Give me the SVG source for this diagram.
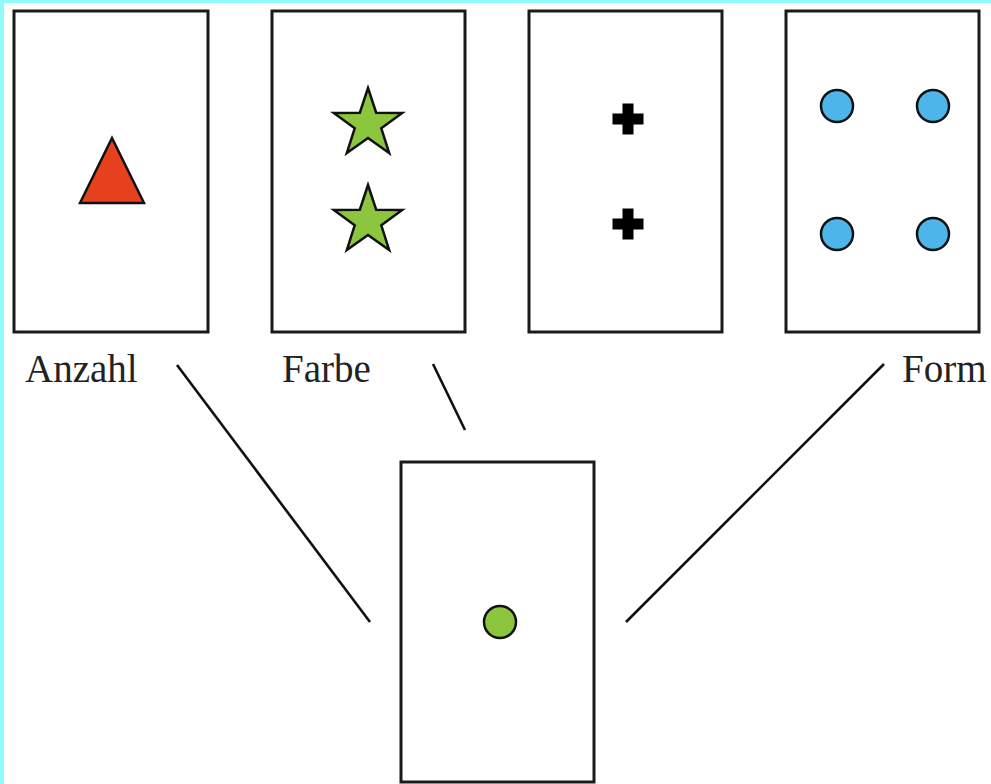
<svg xmlns="http://www.w3.org/2000/svg" width="991" height="784" viewBox="0 0 991 784">
<style>
.card{fill:#fff;stroke:#1a1a1a;stroke-width:3}
.sym{stroke:#111;stroke-width:2.5;stroke-linejoin:miter}
.lbl{font-family:"Liberation Serif","Times New Roman",serif;font-size:39px;fill:#222}
.con{stroke:#111;stroke-width:2.6;fill:none}
</style>
<defs>
<polygon id="star" points="0,-36 8.2,-11.3 34.2,-11.1 13.3,4.3 21.2,29.1 0,14 -21.2,29.1 -13.3,4.3 -34.2,-11.1 -8.2,-11.3"/>
<path id="cross" d="M-5.5,-15.5h11v10h10v11h-10v10h-11v-10h-10v-11h10z"/>
</defs>
<rect x="0" y="0" width="991" height="784" fill="#fff"/>
<rect x="0" y="0" width="991" height="3" fill="#8ffcfc"/>
<rect x="0" y="0" width="4" height="784" fill="#8ffcfc"/>
<g id="card-anzahl">
<rect class="card" x="14" y="11" width="194" height="321"/>
<polygon class="sym" fill="#e6401e" points="112,138 80,203 144,203"/>
</g>
<g id="card-farbe">
<rect class="card" x="272" y="11" width="193" height="321"/>
<use href="#star" class="sym" fill="#8cc63e" x="368" y="124"/>
<use href="#star" class="sym" fill="#8cc63e" x="368" y="221"/>
</g>
<g id="card-cross">
<rect class="card" x="529" y="11" width="193" height="321"/>
<use href="#cross" fill="#000" x="628" y="119"/>
<use href="#cross" fill="#000" x="628" y="224"/>
</g>
<g id="card-form">
<rect class="card" x="786" y="11" width="193" height="321"/>
<circle class="sym" fill="#4db6e8" cx="837" cy="106" r="16"/>
<circle class="sym" fill="#4db6e8" cx="933" cy="106" r="16"/>
<circle class="sym" fill="#4db6e8" cx="837" cy="234" r="16"/>
<circle class="sym" fill="#4db6e8" cx="933" cy="234" r="16"/>
</g>
<g id="card-target">
<rect class="card" x="401" y="462" width="193" height="320"/>
<circle class="sym" fill="#8cc63e" cx="500" cy="622" r="16"/>
</g>
<g id="labels">
<text class="lbl" x="25" y="382">Anzahl</text>
<text class="lbl" x="282" y="382">Farbe</text>
<text class="lbl" x="902" y="382">Form</text>
</g>
<g id="connectors">
<line class="con" x1="177" y1="365" x2="370" y2="622"/>
<line class="con" x1="433" y1="364" x2="465" y2="430"/>
<line class="con" x1="884" y1="364" x2="626" y2="622"/>
</g>
</svg>
